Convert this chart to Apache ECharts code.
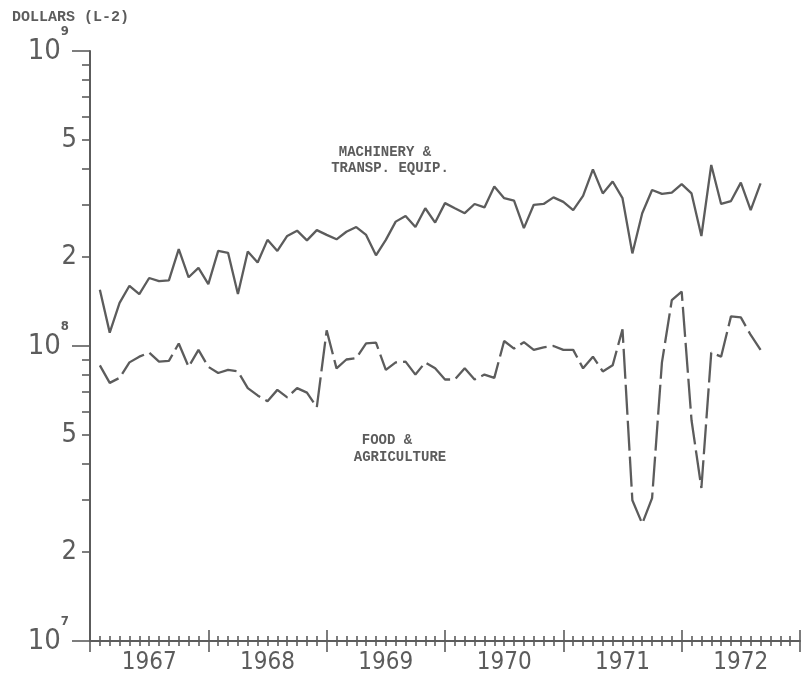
<!DOCTYPE html>
<html><head><meta charset="utf-8">
<script src="https://cdn.jsdelivr.net/npm/echarts@6/dist/echarts.min.js"></script>
<style>html,body{margin:0;padding:0;background:#fff}#c{width:807px;height:675px}</style>
</head><body><div id="c"></div>
<script>
// Year labels on the x axis (each year = 12 monthly steps)
const years = ['1967', '1968', '1969', '1970', '1971', '1972'];
// Month index (from the start of the axis) of the first observation
const firstMonth = 1;
// Machinery & transport equipment, dollars per month
const machinery = [
  1.55e8, 1.11e8, 1.40e8, 1.60e8, 1.50e8, 1.70e8, 1.66e8, 1.67e8, 2.13e8, 1.71e8,
  1.84e8, 1.62e8, 2.10e8, 2.07e8, 1.50e8, 2.09e8, 1.92e8, 2.29e8, 2.10e8, 2.36e8,
  2.46e8, 2.28e8, 2.47e8, 2.38e8, 2.30e8, 2.44e8, 2.53e8, 2.38e8, 2.03e8, 2.29e8,
  2.64e8, 2.76e8, 2.53e8, 2.93e8, 2.62e8, 3.05e8, 2.93e8, 2.82e8, 3.03e8, 2.95e8,
  3.47e8, 3.17e8, 3.11e8, 2.51e8, 3.01e8, 3.03e8, 3.19e8, 3.08e8, 2.89e8, 3.23e8,
  3.97e8, 3.29e8, 3.61e8, 3.17e8, 2.06e8, 2.82e8, 3.38e8, 3.28e8, 3.31e8, 3.54e8,
  3.29e8, 2.36e8, 4.11e8, 3.03e8, 3.10e8, 3.58e8, 2.89e8, 3.56e8
];
// Food & agriculture, dollars per month
const food = [
  8.6e7, 7.5e7, 7.8e7, 8.8e7, 9.2e7, 9.5e7, 8.85e7, 8.9e7, 1.02e8, 8.5e7,
  9.7e7, 8.5e7, 8.1e7, 8.3e7, 8.2e7, 7.2e7, 6.8e7, 6.5e7, 7.1e7, 6.7e7,
  7.2e7, 6.95e7, 6.2e7, 1.13e8, 8.4e7, 9.0e7, 9.1e7, 1.02e8, 1.026e8, 8.3e7,
  8.8e7, 8.85e7, 8.0e7, 8.8e7, 8.4e7, 7.7e7, 7.7e7, 8.4e7, 7.7e7, 8.0e7,
  7.8e7, 1.04e8, 9.8e7, 1.03e8, 9.7e7, 9.9e7, 1.0e8, 9.7e7, 9.7e7, 8.4e7,
  9.2e7, 8.2e7, 8.6e7, 1.14e8, 3.0e7, 2.5e7, 3.05e7, 8.8e7, 1.43e8, 1.53e8,
  5.6e7, 3.3e7, 9.5e7, 9.2e7, 1.26e8, 1.25e8, 1.09e8, 9.7e7
];
// Y-axis ticks
const decadeTicks = [1e7, 1e8, 1e9];
const minorTicks = [2e7, 3e7, 4e7, 5e7, 6e7, 7e7, 8e7, 9e7, 2e8, 3e8, 4e8, 5e8, 6e8, 7e8, 8e8, 9e8];
const minorLabels = [2e7, 5e7, 2e8, 5e8];
// Annotation texts
const titleText = 'DOLLARS (L-2)';
const machLabel = ['MACHINERY &', 'TRANSP. EQUIP.'];
const foodLabel = ['FOOD &', 'AGRICULTURE'];

const C = '#5c5c5c';
const numFont = "'DejaVu Sans Condensed', 'DejaVu Sans', sans-serif";
const monoFont = "'Liberation Mono', 'DejaVu Sans Mono', monospace";
const xMax = years.length * 12;

const toPairs = arr => arr.map((v, i) => [firstMonth + i, v]);

const chart = echarts.init(document.getElementById('c'), null, {renderer: 'canvas'});
const tickStyle = {color: C, width: 1.6};
const xBase = {
  type: 'value', min: 0, max: xMax, interval: 12, position: 'bottom',
  axisLine: {show: false, onZero: false},
  axisLabel: {show: false}, splitLine: {show: false}, minorSplitLine: {show: false}
};
const annFont = 'bold 14px ' + monoFont;
const option = {
  animation: false,
  backgroundColor: '#ffffff',
  grid: {left: 90, right: 7, top: 51, bottom: 34, containLabel: false},
  xAxis: [
    Object.assign({}, xBase, {
      axisLine: {show: true, onZero: false, lineStyle: {color: C, width: 2}},
      axisTick: {show: true, length: 11, lineStyle: tickStyle},
      minorTick: {show: true, splitNumber: 12, length: 5, lineStyle: tickStyle}
    }),
    Object.assign({}, xBase, {
      axisTick: {show: true, inside: true, length: 11, lineStyle: tickStyle},
      minorTick: {show: true, splitNumber: 12, length: 5, lineStyle: tickStyle}
    }),
    {
      type: 'category', data: years, position: 'bottom', boundaryGap: true,
      axisLine: {show: false, onZero: false}, axisTick: {show: false},
      splitLine: {show: false},
      axisLabel: {margin: 10, color: C, fontSize: 24, fontFamily: numFont}
    }
  ],
  yAxis: [
    {
      type: 'log', logBase: 10, min: 1e7, max: 1e9, position: 'left',
      axisLine: {show: true, onZero: false, lineStyle: {color: C, width: 2}},
      axisTick: {show: true, length: 8, customValues: minorTicks, lineStyle: tickStyle},
      axisLabel: {
        customValues: minorLabels, margin: 13, color: C, fontSize: 27, fontFamily: numFont,
        formatter: v => String(Math.round(v / Math.pow(10, Math.floor(Math.log10(v) + 1e-9))))
      },
      splitLine: {show: false}
    },
    {
      type: 'log', logBase: 10, min: 1e7, max: 1e9, position: 'left',
      axisLine: {show: false, onZero: false},
      axisTick: {show: true, length: 18, customValues: decadeTicks, lineStyle: tickStyle},
      axisLabel: {
        customValues: decadeTicks, margin: 21, color: C,
        formatter: v => '{b|10}{s|' + Math.round(Math.log10(v)) + '}',
        rich: {
          b: {fontSize: 29, fontFamily: numFont, color: C, lineHeight: 52},
          s: {fontSize: 13, fontWeight: 'bold', fontFamily: numFont, color: C, lineHeight: 14, verticalAlign: 'top'}
        }
      },
      splitLine: {show: false}
    }
  ],
  series: [
    {
      name: 'MACHINERY & TRANSP. EQUIP.', type: 'line', xAxisIndex: 0, yAxisIndex: 0,
      data: toPairs(machinery), showSymbol: false, symbol: 'none',
      lineStyle: {color: C, width: 2.3}
    },
    {
      name: 'FOOD & AGRICULTURE', type: 'line', xAxisIndex: 0, yAxisIndex: 0,
      data: toPairs(food), showSymbol: false, symbol: 'none',
      lineStyle: {color: C, width: 2.3, type: [30, 6]}
    }
  ],
  graphic: [
    {type: 'text', x: 12, y: 17, style: {text: titleText, font: 'bold 15px ' + monoFont, fill: C, verticalAlign: 'middle'}},
    {type: 'text', x: 385, y: 152, style: {text: machLabel[0], font: annFont, fill: C, align: 'center', verticalAlign: 'middle'}},
    {type: 'text', x: 390, y: 168, style: {text: machLabel[1], font: annFont, fill: C, align: 'center', verticalAlign: 'middle'}},
    {type: 'text', x: 387, y: 440, style: {text: foodLabel[0], font: annFont, fill: C, align: 'center', verticalAlign: 'middle'}},
    {type: 'text', x: 400, y: 457, style: {text: foodLabel[1], font: annFont, fill: C, align: 'center', verticalAlign: 'middle'}}
  ]
};
chart.setOption(option);
</script>
</body></html>
